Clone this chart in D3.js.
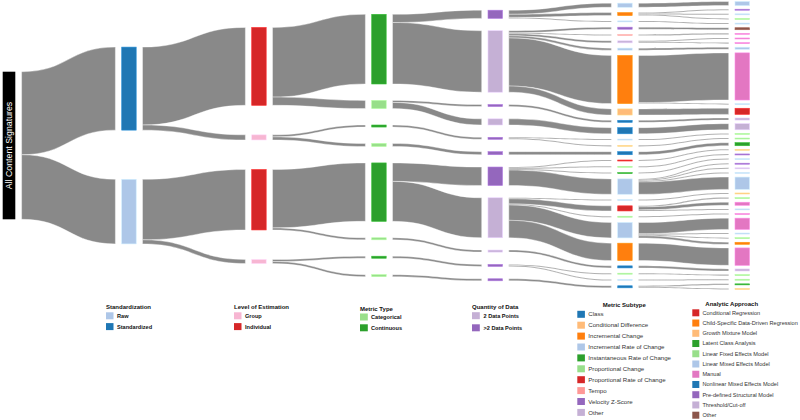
<!DOCTYPE html>
<html><head><meta charset="utf-8">
<script src="https://cdn.jsdelivr.net/npm/d3@7"></script>
<style>body{margin:0;background:#fff}svg{display:block;font-family:"Liberation Sans",Arial,Helvetica,sans-serif}</style>
</head><body><svg id="chart" width="800" height="420"></svg>
<script>
// ---------------- DATA ----------------
const rootLabel = "All Content Signatures";
const standardization = ["Raw", "Standardized"];
const levels = ["Group", "Individual"];
const metricTypes = ["Categorical", "Continuous"];
const quantities = ["2 Data Points", ">2 Data Points"];
const subtypes = ["Class", "Conditional Difference", "Incremental Change", "Incremental Rate of Change",
  "Instantaneous Rate of Change", "Proportional Change", "Proportional Rate of Change", "Tempo",
  "Velocity Z-Score", "Other"];
const approaches = ["Conditional Regression", "Child-Specific Data-Driven Regression", "Growth Mixture Model",
  "Latent Class Analysis", "Linear Fixed Effects Model", "Linear Mixed Effects Model", "Manual",
  "Nonlinear Mixed Effects Model", "Pre-defined Structural Model", "Threshold/Cut-off", "Other"];
const legendTitles = ["Standardization", "Level of Estimation", "Metric Type", "Quantity of Data",
  "Metric Subtype", "Analytic Approach"];

// one row per leaf path, top to bottom: [standardization, level, metric type, quantity, subtype, approach]
const signaturePaths = [
  ["Standardized","Individual","Continuous",">2 Data Points","Incremental Rate of Change","Linear Mixed Effects Model"],
  ["Standardized","Individual","Continuous",">2 Data Points","Incremental Change","Pre-defined Structural Model"],
  ["Standardized","Individual","Continuous",">2 Data Points","Incremental Change","Linear Mixed Effects Model"],
  ["Standardized","Individual","Continuous",">2 Data Points","Incremental Change","Linear Fixed Effects Model"],
  ["Standardized","Individual","Continuous",">2 Data Points","Incremental Rate of Change","Linear Mixed Effects Model"],
  ["Standardized","Individual","Continuous","2 Data Points","Velocity Z-Score","Other"],
  ["Standardized","Individual","Continuous","2 Data Points","Tempo","Manual"],
  ["Standardized","Individual","Continuous","2 Data Points","Other","Manual"],
  ["Standardized","Individual","Continuous","2 Data Points","Other","Manual"],
  ["Standardized","Individual","Continuous","2 Data Points","Incremental Rate of Change","Linear Mixed Effects Model"],
  ["Standardized","Individual","Continuous","2 Data Points","Incremental Change","Manual"],
  ["Standardized","Individual","Continuous","2 Data Points","Incremental Change","Linear Mixed Effects Model"],
  ["Standardized","Individual","Continuous","2 Data Points","Conditional Difference","Conditional Regression"],
  ["Standardized","Individual","Categorical",">2 Data Points","Class","Threshold/Cut-off"],
  ["Standardized","Individual","Categorical","2 Data Points","Class","Threshold/Cut-off"],
  ["Standardized","Group","Continuous",">2 Data Points","Incremental Rate of Change","Linear Fixed Effects Model"],
  ["Standardized","Group","Continuous",">2 Data Points","Conditional Difference","Linear Fixed Effects Model"],
  ["Standardized","Group","Categorical",">2 Data Points","Class","Latent Class Analysis"],
  ["Raw","Individual","Continuous",">2 Data Points","Proportional Rate of Change","Growth Mixture Model"],
  ["Raw","Individual","Continuous",">2 Data Points","Proportional Change","Pre-defined Structural Model"],
  ["Raw","Individual","Continuous",">2 Data Points","Instantaneous Rate of Change","Linear Mixed Effects Model"],
  ["Raw","Individual","Continuous",">2 Data Points","Incremental Rate of Change","Pre-defined Structural Model"],
  ["Raw","Individual","Continuous",">2 Data Points","Incremental Rate of Change","Threshold/Cut-off"],
  ["Raw","Individual","Continuous",">2 Data Points","Incremental Rate of Change","Linear Mixed Effects Model"],
  ["Raw","Individual","Continuous",">2 Data Points","Incremental Rate of Change","Linear Mixed Effects Model"],
  ["Raw","Individual","Continuous","2 Data Points","Incremental Rate of Change","Growth Mixture Model"],
  ["Raw","Individual","Continuous","2 Data Points","Proportional Rate of Change","Linear Fixed Effects Model"],
  ["Raw","Individual","Continuous","2 Data Points","Proportional Rate of Change","Manual"],
  ["Raw","Individual","Continuous","2 Data Points","Proportional Rate of Change","Linear Mixed Effects Model"],
  ["Raw","Individual","Continuous","2 Data Points","Proportional Change","Manual"],
  ["Raw","Individual","Continuous","2 Data Points","Incremental Rate of Change","Manual"],
  ["Raw","Individual","Continuous","2 Data Points","Incremental Rate of Change","Linear Mixed Effects Model"],
  ["Raw","Individual","Continuous","2 Data Points","Incremental Rate of Change","Linear Fixed Effects Model"],
  ["Raw","Individual","Continuous","2 Data Points","Incremental Rate of Change","Child-Specific Data-Driven Regression"],
  ["Raw","Individual","Continuous","2 Data Points","Incremental Change","Manual"],
  ["Raw","Individual","Categorical","2 Data Points","Class","Threshold/Cut-off"],
  ["Raw","Group","Continuous",">2 Data Points","Proportional Change","Linear Fixed Effects Model"],
  ["Raw","Group","Continuous",">2 Data Points","Incremental Rate of Change","Linear Fixed Effects Model"],
  ["Raw","Group","Categorical",">2 Data Points","Class","Latent Class Analysis"],
  ["Raw","Group","Categorical",">2 Data Points","Class","Growth Mixture Model"]
];
const signatureCounts = [4,1,1,1,1, 2,1,1,1,2,46,1,6, 2,6, 1,1,3, 1,1,1,1,1,1,12, 1,1,3,1,1,11,1,1,2,17, 2, 1,1,1,1];

// ---------------- STYLE ----------------
const standardizationColors = ["#aec7e8", "#1f77b4"];
const levelColors = ["#f7b6d2", "#d62728"];
const metricTypeColors = ["#98df8a", "#2ca02c"];
const quantityColors = ["#c5b0d5", "#9467bd"];
const subtypeColors = ["#1f77b4","#ffbb78","#ff7f0e","#aec7e8","#2ca02c","#98df8a","#d62728","#ff9896","#9467bd","#c5b0d5"];
const approachColors = ["#d62728","#ff7f0e","#ffbb78","#2ca02c","#98df8a","#aec7e8","#e377c2","#1f77b4","#9467bd","#c5b0d5","#8c564b"];

const columns = [standardization, levels, metricTypes, quantities, subtypes, approaches];
const columnColors = [standardizationColors, levelColors, metricTypeColors, quantityColors, subtypeColors, approachColors];

// ---------------- BUILD TREE ----------------
const root = {depth: 0, name: rootLabel, value: 0, children: [], color: "#000"};
const depthNodes = d3.range(7).map(() => []);
depthNodes[0].push(root);
signaturePaths.forEach((path, i) => {
  const count = signatureCounts[i];
  let parent = root;
  root.value += count;
  for (let d = 1; d <= 6; d++) {
    const name = path[d - 1];
    const last = parent.children[parent.children.length - 1];
    let node;
    if (d < 6 && last && last.name === name) node = last;
    else {
      const scale = d3.scaleOrdinal().domain(columns[d - 1]).range(columnColors[d - 1]);
      node = {depth: d, name, value: 0, children: [], color: scale(name)};
      parent.children.push(node);
      depthNodes[d].push(node);
    }
    node.value += count;
    parent = node;
  }
});

// ---------------- LAYOUT ----------------
const yTop = 1.5, H = 288, pad = 3.6, nodeW = 14.5, linkGap = 6.3;
const xCol = d3.scaleOrdinal().domain(d3.range(7)).range([2.7, 121.7, 251.7, 371.7, 488, 617.7, 735]);
const ky = d3.min(depthNodes, col => (H - (col.length - 1) * pad) / d3.sum(col, n => n.value));
const yLen = d3.scaleLinear().domain([0, 1]).range([0, ky]);

depthNodes.forEach((col, d) => {
  let y = yTop;
  col.forEach(n => { n.x0 = xCol(d); n.x1 = n.x0 + (d === 0 ? 12.6 : nodeW); n.y0 = y; n.y1 = y + yLen(n.value); y = n.y1 + pad; });
  const extra = (yTop + H - y + pad) / (col.length + 1);
  col.forEach((n, i) => { n.y0 += extra * (i + 1); n.y1 += extra * (i + 1); });
});

const links = [];
depthNodes.forEach(col => col.forEach(n => {
  let sy = n.y0;
  n.children.forEach(c => {
    const h = yLen(c.value);
    links.push({x0: n.x1 + linkGap, x1: c.x0 - linkGap, sy0: sy, sy1: sy + h, ty0: c.y0, ty1: c.y0 + h});
    sy += h;
  });
}));

// ---------------- DRAW ----------------
const svg = d3.select("#chart");

function linkPath(l) {
  const xi = d3.interpolateNumber(l.x0, l.x1);
  const xa = xi(0.5), xb = xi(0.5);
  const p = d3.path();
  p.moveTo(l.x0, l.sy0);
  p.bezierCurveTo(xa, l.sy0, xb, l.ty0, l.x1, l.ty0);
  p.lineTo(l.x1, l.ty1);
  p.bezierCurveTo(xb, l.ty1, xa, l.sy1, l.x0, l.sy1);
  p.closePath();
  return p.toString();
}

svg.append("g").selectAll("path").data(links).join("path")
  .attr("d", linkPath)
  .attr("fill", "#898989")
  .attr("stroke", "#fff")
  .attr("stroke-width", 0.4);

const allNodes = depthNodes.flat();
svg.append("g").selectAll("rect").data(allNodes).join("rect")
  .attr("x", n => n.x0).attr("y", n => n.y0)
  .attr("width", n => n.x1 - n.x0).attr("height", n => Math.max(0.8, n.y1 - n.y0))
  .attr("fill", n => n.color)
  .attr("stroke", n => n.depth === 0 ? "none" : d3.color(n.color).brighter(0.5))
  .attr("stroke-width", 0.6);

svg.append("text")
  .attr("transform", `translate(${(root.x0 + root.x1) / 2 + 3},${(root.y0 + root.y1) / 2}) rotate(-90)`)
  .attr("text-anchor", "middle")
  .attr("fill", "#fff")
  .attr("font-size", 8.8)
  .text(rootLabel);

// ---------------- LEGEND ----------------
const legendLayout = [
  {x: 106, tx: 117, titleX: 106, anchor: "start", ty: 309, y0: 312.3, step: 10.8, sw: 7.5, fs: 5.6, bold: true, fill: "#111"},
  {x: 234, tx: 245, titleX: 234, anchor: "start", ty: 309, y0: 312.3, step: 10.8, sw: 7.5, fs: 5.6, bold: true, fill: "#111"},
  {x: 360, tx: 371, titleX: 360, anchor: "start", ty: 311, y0: 313.5, step: 10.8, sw: 7.8, fs: 5.6, bold: true, fill: "#111"},
  {x: 472, tx: 483.5, titleX: 472, anchor: "start", ty: 309, y0: 312.2, step: 12.1, sw: 7.8, fs: 5.6, bold: true, fill: "#111"},
  {x: 577.3, tx: 588.3, titleX: 624.3, anchor: "middle", ty: 307.3, y0: 310.8, step: 10.9, sw: 7.6, fs: 6.1, bold: false, fill: "#333"},
  {x: 692.3, tx: 702.4, titleX: 731.7, anchor: "middle", ty: 306.3, y0: 309.3, step: 10.24, sw: 7, fs: 5.6, bold: false, fill: "#333"}
];
legendLayout.forEach((L, k) => {
  const g = svg.append("g");
  g.append("text").attr("x", L.titleX).attr("y", L.ty).attr("text-anchor", L.anchor)
    .attr("font-size", 6).attr("font-weight", "bold").attr("fill", "#111").text(legendTitles[k]);
  const items = columns[k];
  const ys = d3.scaleLinear().domain([0, 1]).range([L.y0, L.y0 + L.step]);
  g.selectAll("rect").data(items).join("rect")
    .attr("x", L.x).attr("y", (d, i) => ys(i))
    .attr("width", L.sw).attr("height", 7)
    .attr("fill", (d, i) => columnColors[k][i]);
  g.selectAll("text.item").data(items).join("text").attr("class", "item")
    .attr("x", L.tx).attr("y", (d, i) => ys(i) + 3.5 + L.fs * 0.35)
    .attr("font-size", L.fs).attr("font-weight", L.bold ? "bold" : "normal")
    .attr("fill", L.fill).text(d => d);
});
</script></body></html>
